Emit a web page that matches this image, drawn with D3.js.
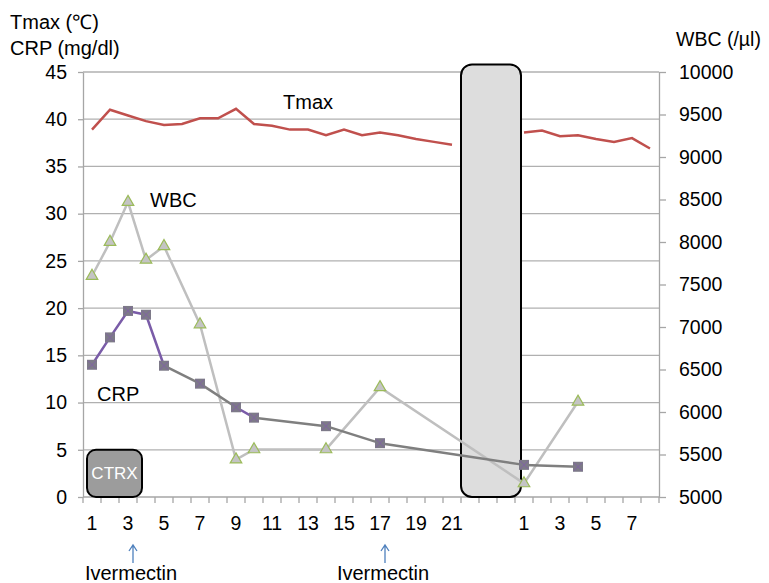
<!DOCTYPE html>
<html>
<head>
<meta charset="utf-8">
<script src="https://cdn.jsdelivr.net/npm/d3@7"></script>
<style>
  body { margin: 0; background: #fff; }
  svg { display: block; font-family: "Liberation Sans", Arial, Helvetica, sans-serif; }
</style>
</head>
<body>
<div class="d3-container"></div>
<script>
// category labels: 21 days, a 3-slot break, then 8 more days
const days = ["1","2","3","4","5","6","7","8","9","10","11","12","13","14","15","16","17","18","19","20","21",
  "","","",
  "1","2","3","4","5","6","7","8"];

const tmax = [38.9, 41.0, 40.4, 39.8, 39.4, 39.5, 40.1, 40.1, 41.1, 39.5, 39.3, 38.9, 38.9, 38.3, 38.9, 38.3, 38.6, 38.3, 37.9, 37.6, 37.3,
  null, null, null,
  38.6, 38.8, 38.2, 38.3, 37.9, 37.6, 38.0, 36.9];

const wbc = [7600, 8000, 8470, 7790, 7950, null, 7030, null, 5440, 5560, null, null, null, 5560, null, null, 6290, null, null, null, null,
  null, null, null,
  5160, null, null, 6120, null, null, null, null];

const crp = [14.0, 16.9, 19.7, 19.3, 13.9, null, 12.0, null, 9.5, 8.4, null, null, null, 7.5, null, null, 5.7, null, null, null, null,
  null, null, null,
  3.4, null, null, 3.2, null, null, null, null];

const leftTicks = d3.range(0, 46, 5);
const rightTicks = d3.range(5000, 10001, 500);
const ivermectinDays = [2, 16];

const width = 769;
const height = 583;
const margin = {top: 72, right: 110, bottom: 86, left: 83};
const fs = 19.5;

const svg = d3.select(".d3-container")
  .append("svg")
  .attr("width", width)
  .attr("height", height)
  .attr("viewBox", [0, 0, width, height]);

const x = d3.scaleBand()
  .domain(d3.range(days.length))
  .range([margin.left, width - margin.right]);
const cx = i => x(i) + x.bandwidth() / 2;

const yL = d3.scaleLinear().domain([0, 45]).range([height - margin.bottom, margin.top]);
const yR = d3.scaleLinear().domain([5000, 10000]).range([height - margin.bottom, margin.top]);

// gridlines
svg.append("g")
  .attr("stroke", "#b0b0b0")
  .attr("stroke-width", 1.3)
  .selectAll("line")
  .data(leftTicks.slice(1))
  .join("line")
  .attr("x1", margin.left)
  .attr("x2", width - margin.right)
  .attr("y1", d => yL(d))
  .attr("y2", d => yL(d));

// left axis
svg.append("g")
  .attr("transform", `translate(${margin.left},0)`)
  .call(d3.axisLeft(yL).tickValues(leftTicks).tickSize(5).tickSizeOuter(0).tickPadding(11))
  .call(g => {
    g.attr("font-family", null).attr("font-size", fs);
    g.select(".domain").attr("stroke", "#a6a6a6").attr("stroke-width", 1.3);
    g.selectAll(".tick line").attr("stroke", "#a6a6a6").attr("stroke-width", 1.3);
    g.selectAll("text").attr("fill", "#000");
  });

// right axis
svg.append("g")
  .attr("transform", `translate(${width - margin.right},0)`)
  .call(d3.axisRight(yR).tickValues(rightTicks).tickFormat(d3.format("d")).tickSize(7).tickSizeOuter(0).tickPadding(13))
  .call(g => {
    g.attr("font-family", null).attr("font-size", fs);
    g.select(".domain").attr("stroke", "#a6a6a6").attr("stroke-width", 1.3);
    g.selectAll(".tick line").attr("stroke", "#a6a6a6").attr("stroke-width", 1.3);
    g.selectAll("text").attr("fill", "#000");
  });

// bottom axis: line, tick marks at band edges, every other label
const bottom = svg.append("g");
bottom.append("line")
  .attr("x1", margin.left).attr("x2", width - margin.right)
  .attr("y1", yL(0)).attr("y2", yL(0))
  .attr("stroke", "#a6a6a6").attr("stroke-width", 1.3);
bottom.append("g")
  .selectAll("line")
  .data(d3.range(days.length + 1))
  .join("line")
  .attr("x1", i => margin.left + i * x.step())
  .attr("x2", i => margin.left + i * x.step())
  .attr("y1", yL(0))
  .attr("y2", yL(0) + 6)
  .attr("stroke", "#a6a6a6").attr("stroke-width", 1.3);
bottom.append("g")
  .selectAll("text")
  .data(d3.range(days.length).filter(i => i % 2 === 0))
  .join("text")
  .attr("x", i => cx(i))
  .attr("y", yL(0) + 33)
  .attr("text-anchor", "middle")
  .attr("font-size", fs)
  .text(i => days[i]);

// break box and CTRX box
svg.append("rect")
  .attr("x", x(21))
  .attr("y", yL(45.8))
  .attr("width", x(24) + 6 - x(21))
  .attr("height", yL(0) - yL(45.8))
  .attr("rx", 11)
  .attr("fill", "#dddddd")
  .attr("stroke", "#000")
  .attr("stroke-width", 2);

svg.append("rect")
  .attr("x", x(0) + 4)
  .attr("y", yL(5))
  .attr("width", x(3) + 5 - x(0) - 4)
  .attr("height", yL(0) - yL(5))
  .attr("rx", 9)
  .attr("fill", "#9c9c9c")
  .attr("stroke", "#000")
  .attr("stroke-width", 2);
svg.append("text")
  .attr("x", (x(0) + x(3) + 9) / 2)
  .attr("y", yL(2.5) + 6)
  .attr("text-anchor", "middle")
  .attr("font-size", 17)
  .attr("fill", "#fff")
  .text("CTRX");

// Tmax line (gap at the break)
const tmaxPts = tmax.map((v, i) => ({i, v}));
svg.append("path")
  .datum(tmaxPts)
  .attr("fill", "none")
  .attr("stroke", "#c0504d")
  .attr("stroke-width", 2.5)
  .attr("d", d3.line().defined(d => d.v != null).x(d => cx(d.i)).y(d => yL(d.v)));

// WBC line (connects across missing days)
const wbcPts = wbc.map((v, i) => ({i, v})).filter(d => d.v != null);
svg.append("path")
  .datum(wbcPts)
  .attr("fill", "none")
  .attr("stroke", "#bfbfbf")
  .attr("stroke-width", 2.5)
  .attr("d", d3.line().x(d => cx(d.i)).y(d => yR(d.v)));

// CRP line: purple for consecutive days, grey across gaps
const crpPts = crp.map((v, i) => ({i, v})).filter(d => d.v != null);
svg.append("g")
  .selectAll("line")
  .data(d3.pairs(crpPts))
  .join("line")
  .attr("x1", d => cx(d[0].i)).attr("y1", d => yL(d[0].v))
  .attr("x2", d => cx(d[1].i)).attr("y2", d => yL(d[1].v))
  .attr("stroke", d => d[1].i - d[0].i === 1 ? "#7a5ca8" : "#7f7f7f")
  .attr("stroke-width", 2.5)
  .attr("stroke-linecap", "round");

// WBC markers
svg.append("g")
  .selectAll("path")
  .data(wbcPts)
  .join("path")
  .attr("transform", d => `translate(${cx(d.i)},${yR(d.v)})`)
  .attr("d", d3.symbol(d3.symbolTriangle, 58))
  .attr("fill", "#c4c4c4")
  .attr("stroke", "#9bbb59")
  .attr("stroke-width", 1.2);

// CRP markers
const sq = svg.append("g")
  .selectAll("g")
  .data(crpPts)
  .join("g")
  .attr("transform", d => `translate(${cx(d.i)},${yL(d.v)})`);
sq.append("rect")
  .attr("x", -5).attr("y", -5).attr("width", 10).attr("height", 10)
  .attr("fill", "#7d7a88");
sq.append("path")
  .attr("d", "M-4,-4L4,4M-4,4L4,-4")
  .attr("stroke", "#8064a2")
  .attr("stroke-width", 1);

// series labels
svg.append("text").attr("x", x(11) + 2).attr("y", yL(41.1)).attr("font-size", 20).text("Tmax");
svg.append("text").attr("x", x(3) + 13).attr("y", yL(30.7)).attr("font-size", 20).text("WBC");
svg.append("text").attr("x", x(0) + 14).attr("y", yL(10.2)).attr("font-size", 20).text("CRP");

// axis titles
svg.append("text").attr("x", 10).attr("y", 29).attr("font-size", 20).text("Tmax (℃)");
svg.append("text").attr("x", 10).attr("y", 55).attr("font-size", 20).text("CRP (mg/dl)");
svg.append("text").attr("x", 676).attr("y", 46).attr("font-size", fs).text("WBC (/µl)");

// Ivermectin arrows
const iv = svg.append("g")
  .selectAll("g")
  .data(ivermectinDays)
  .join("g")
  .attr("transform", d => `translate(${cx(d) + 5},0)`);
iv.append("path")
  .attr("d", "M0,563V545M-4,551L0,545L4,551")
  .attr("fill", "none")
  .attr("stroke", "#4f81bd")
  .attr("stroke-width", 1.3);
iv.append("text")
  .attr("y", 580)
  .attr("x", -2)
  .attr("text-anchor", "middle")
  .attr("font-size", 20)
  .text("Ivermectin");
</script>
</body>
</html>
